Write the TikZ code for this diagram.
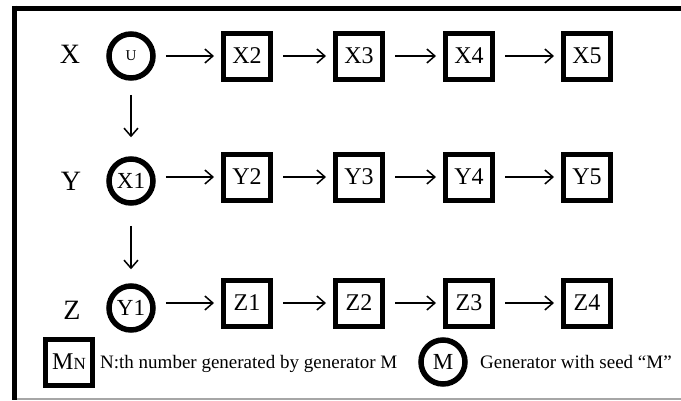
\documentclass[tikz,border=0pt]{standalone}
\usepackage{fontspec}
\setmainfont{Liberation Serif}
\usetikzlibrary{arrows.meta}
\begin{document}
\begin{tikzpicture}[x=1pt,y=-1pt,
  numbox/.style={draw,line width=5pt,minimum width=47pt,minimum height=46pt,inner sep=0pt,font=\fontsize{24}{24}\selectfont},
  gen/.style={draw,circle,line width=5.5pt,minimum size=44pt,inner sep=0pt,font=\fontsize{23}{23}\selectfont},
  rowlabel/.style={font=\fontsize{28}{28}\selectfont,inner sep=0pt},
  legendtext/.style={font=\fontsize{19}{19}\selectfont,inner sep=0pt,anchor=base west},
  link/.style={line width=1.5pt,-{Straight Barb[length=8pt,width=14pt]},shorten <=10pt,shorten >=7pt},
  down/.style={line width=1.5pt,-{Straight Barb[length=8pt,width=14pt]}},
]
\useasboundingbox (0,0) rectangle (681,400);
% frame
\draw[line width=5pt] (12,8) -- (681,8);
\draw[line width=5pt] (14.5,5.5) -- (14.5,400);
\draw[black!35, line width=1.2pt] (17,399) -- (681,399);

% row X
\node[rowlabel] (lx) at (70,54) {X};
\node[gen,font=\fontsize{15}{15}\selectfont] (u) at (131,56) {U};
\node[numbox] (x2) at (247,56) {X2};
\node[numbox] (x3) at (359,56) {X3};
\node[numbox] (x4) at (469,56) {X4};
\node[numbox] (x5) at (587,56) {X5};

% row Y
\node[rowlabel] (ly) at (71,181) {Y};
\node[gen] (x1) at (131,181) {X1};
\node[numbox] (y2) at (247,177) {Y2};
\node[numbox] (y3) at (359,177) {Y3};
\node[numbox] (y4) at (469,177) {Y4};
\node[numbox] (y5) at (587,177) {Y5};

% row Z
\node[rowlabel] (lz) at (72,310) {Z};
\node[gen] (y1) at (131,308) {Y1};
\node[numbox] (z1) at (247,303) {Z1};
\node[numbox] (z2) at (359,303) {Z2};
\node[numbox] (z3) at (469,303) {Z3};
\node[numbox] (z4) at (587,303) {Z4};

% arrows
\draw[link] (u) -- (x2);
\draw[link] (x2) -- (x3);
\draw[link] (x3) -- (x4);
\draw[link] (x4) -- (x5);
\draw[link] (x1.east |- y2) -- (y2);
\draw[link] (y2) -- (y3);
\draw[link] (y3) -- (y4);
\draw[link] (y4) -- (y5);
\draw[link] (y1.east |- z1) -- (z1);
\draw[link] (z1) -- (z2);
\draw[link] (z2) -- (z3);
\draw[link] (z3) -- (z4);
\draw[down,shorten <=14pt,shorten >=19pt] (u) -- (x1);
\draw[down,shorten <=20pt,shorten >=14pt] (x1) -- (y1);

% legend
\node[numbox,font=\fontsize{24}{24}\selectfont] (mn) at (69,362) {M{\fontsize{17}{17}\selectfont N}};
\node[legendtext] (t1) at (100,368) {N:th number generated by generator M};
\node[gen] (m) at (443,362) {M};
\node[legendtext] (t2) at (480,368) {Generator with seed “M”};
\end{tikzpicture}
\end{document}
